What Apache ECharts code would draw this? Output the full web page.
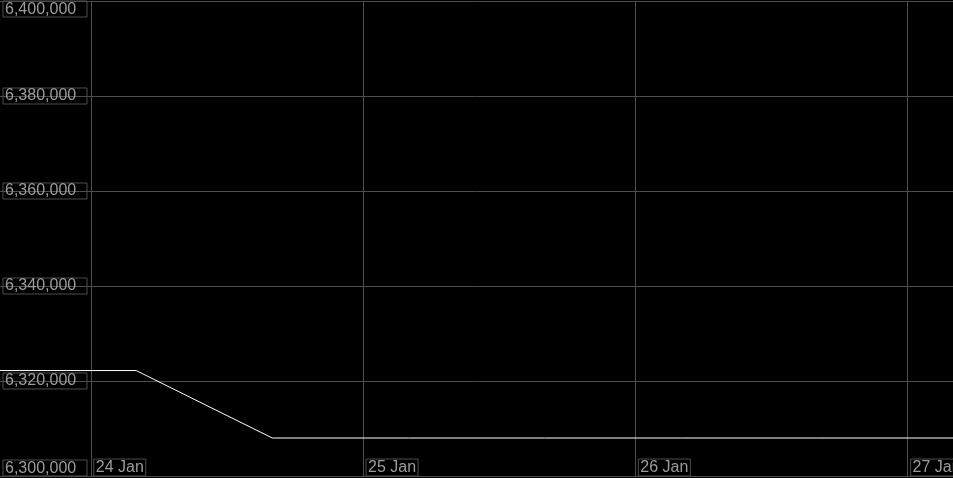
<!DOCTYPE html>
<html><head><meta charset="utf-8">
<script src="https://cdn.jsdelivr.net/npm/echarts@6/dist/echarts.min.js"></script>
<style>html,body{margin:0;padding:0;background:#000;}#c{width:953px;height:478px;}</style>
</head><body><div id="c"></div>
<script>
// Data (local time, 12-hour samples)
const times = [
  [2024,0,23,16],[2024,0,24,4],[2024,0,24,16],[2024,0,25,4],
  [2024,0,25,16],[2024,0,26,4],[2024,0,26,16],[2024,0,27,4]
];
const values = [6322200, 6322200, 6308000, 6308000, 6308000, 6308000, 6308000, 6308000];
const yTicks = [6300000, 6320000, 6340000, 6360000, 6380000, 6400000];
const months = ['Jan','Feb','Mar','Apr','May','Jun','Jul','Aug','Sep','Oct','Nov','Dec'];

const toDate = t => new Date(t[0], t[1], t[2], t[3]).getTime();
const seriesData = times.map((t, i) => [toDate(t), values[i]]);
const DAY = 86400000;

const chart = echarts.init(document.getElementById('c'), null, {renderer: 'canvas'});
const gridColor = '#4d4d4d';
const textColor = '#9c9c9c';
chart.setOption({
  backgroundColor: '#000',
  animation: false,
  grid: {left: 0, right: 0, top: 1, bottom: 2, containLabel: false, outerBoundsMode: 'none'},
  xAxis: {
    type: 'time',
    min: seriesData[0][0],
    max: seriesData[seriesData.length - 1][0],
    minInterval: DAY, maxInterval: DAY, interval: DAY,
    axisLine: {show: true, lineStyle: {color: gridColor}},
    axisTick: {show: false},
    splitLine: {show: true, showMinLine: false, showMaxLine: false, lineStyle: {color: gridColor, width: 1}},
    axisLabel: {
      inside: true,
      margin: 1,
      align: 'left',
      verticalAlign: 'bottom',
      padding: [0, 0, 0, 3],
      hideOverlap: false,
      showMinLabel: false,
      showMaxLabel: false,
      formatter: v => { const d = new Date(v); return '{b|' + d.getDate() + ' ' + months[d.getMonth()] + '}'; },
      rich: {
        b: {
          color: textColor,
          fontFamily: 'Liberation Sans, Arial, sans-serif',
          fontSize: 16,
          lineHeight: 15,
          padding: [1, 2, 0, 2],
          borderColor: gridColor,
          borderWidth: 1
        }
      }
    }
  },
  yAxis: {
    type: 'value',
    min: yTicks[0], max: yTicks[yTicks.length - 1], interval: yTicks[1] - yTicks[0],
    axisLine: {show: false},
    axisTick: {show: false},
    splitLine: {show: true, lineStyle: {color: gridColor, width: 1}},
    axisLabel: {
      inside: true,
      margin: 3,
      align: 'left',
      verticalAlign: 'middle',
      verticalAlignMinLabel: 'bottom',
      verticalAlignMaxLabel: 'top',
      color: textColor,
      fontFamily: 'Liberation Sans, Arial, sans-serif',
      fontSize: 16,
      lineHeight: 15,
      width: 70,
      padding: [1, 12, 0, 2],
      borderColor: gridColor,
      borderWidth: 1,
      formatter: v => v.toLocaleString('en-US')
    }
  },
  series: [{
    type: 'line',
    data: seriesData,
    symbol: 'none',
    lineStyle: {color: '#fff', width: 1},
    silent: true
  }]
});
</script></body></html>
